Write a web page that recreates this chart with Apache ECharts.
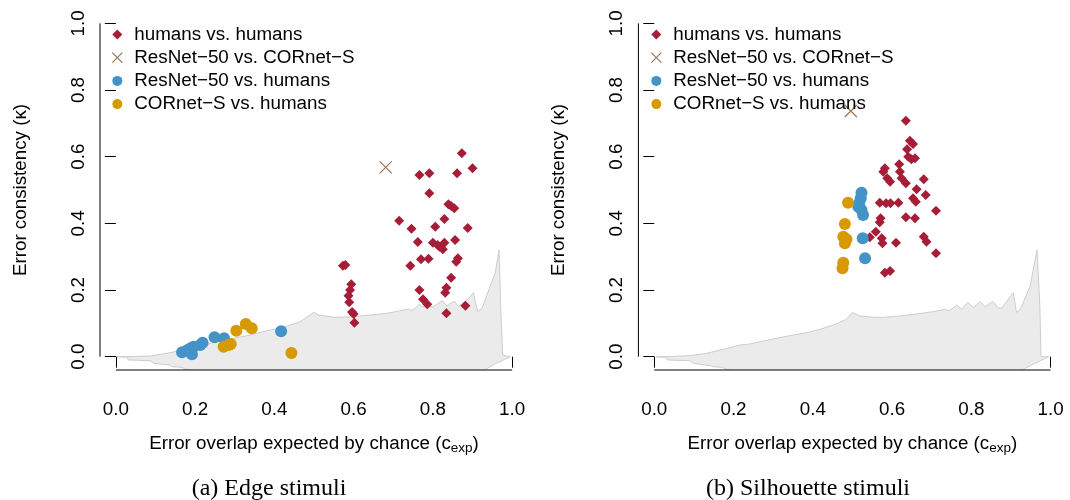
<!DOCTYPE html>
<html>
<head>
<meta charset="utf-8">
<script src="https://cdn.jsdelivr.net/npm/echarts@6/dist/echarts.min.js"></script>
<style>
  html, body { margin: 0; padding: 0; background: #fff; }
  #chart { width: 1070px; height: 500px; }
</style>
</head>
<body>
<div id="chart"></div>
<script>
// ---- data: error consistency vs. expected overlap ----
const tickValues = [0, 0.2, 0.4, 0.6, 0.8, 1.0];
const seriesNames = ['humans vs. humans', 'ResNet\u221250 vs. CORnet\u2212S', 'ResNet\u221250 vs. humans', 'CORnet\u2212S vs. humans'];
const panelCaptions = ['(a) Edge stimuli', '(b) Silhouette stimuli'];

// Edge stimuli
const edgeHumans = [
  [0.873,0.610],[0.900,0.565],[0.766,0.545],[0.791,0.550],[0.861,0.550],[0.791,0.490],
  [0.839,0.457],[0.846,0.452],[0.854,0.445],[0.715,0.408],[0.829,0.413],[0.746,0.384],
  [0.806,0.390],[0.888,0.386],[0.762,0.344],[0.800,0.342],[0.812,0.335],[0.817,0.330],
  [0.829,0.342],[0.825,0.322],[0.856,0.350],[0.770,0.292],[0.789,0.294],[0.863,0.295],
  [0.859,0.285],[0.743,0.273],[0.846,0.237],[0.834,0.207],[0.831,0.192],[0.766,0.200],
  [0.775,0.172],[0.786,0.157],[0.882,0.153],[0.834,0.130],[0.573,0.273],[0.579,0.275],
  [0.594,0.217],[0.591,0.200],[0.587,0.183],[0.589,0.163],[0.596,0.134],[0.600,0.128],
  [0.602,0.102]
];
const edgeModels = [[0.681,0.568]];
const edgeResNet = [
  [0.167,0.013],[0.181,0.020],[0.192,0.007],[0.196,0.030],[0.189,0.025],[0.213,0.035],
  [0.219,0.042],[0.249,0.058],[0.273,0.055],[0.417,0.076]
];
const edgeCORnet = [
  [0.304,0.078],[0.328,0.098],[0.343,0.085],[0.272,0.030],[0.290,0.038],[0.285,0.035],[0.443,0.011]
];
const edgeBandUpper = [
  [0.0025,0],[0.028,0],[0.087,0.002],[0.129,0.010],[0.167,0.020],[0.213,0.032],[0.255,0.045],
  [0.297,0.055],[0.339,0.065],[0.381,0.078],[0.423,0.088],[0.465,0.105],[0.490,0.125],
  [0.500,0.133],[0.511,0.125],[0.553,0.118],[0.600,0.120],[0.642,0.125],[0.684,0.130],
  [0.726,0.140],[0.738,0.143],[0.747,0.138],[0.760,0.150],[0.766,0.158],[0.772,0.150],
  [0.802,0.150],[0.810,0.157],[0.824,0.168],[0.835,0.152],[0.854,0.167],[0.865,0.150],
  [0.890,0.175],[0.902,0.192],[0.913,0.135],[0.924,0.145],[0.944,0.210],[0.957,0.250],
  [0.967,0.320],[0.971,0.150],[0.976,0.005],[0.995,0]
];
const edgeBandLower = [
  [0.995,0],[0.960,-0.020],[0.930,-0.040],[0.850,-0.090],[0.500,-0.130],[0.300,-0.090],
  [0.200,-0.042],[0.175,-0.038],[0.167,-0.032],[0.141,-0.030],[0.137,-0.025],[0.095,-0.020],
  [0.087,-0.012],[0.032,-0.010],[0.028,-0.002],[0.0025,0]
];

// Silhouette stimuli
const silHumans = [
  [0.635,0.708],[0.645,0.648],[0.653,0.638],[0.638,0.622],[0.641,0.600],[0.649,0.592],
  [0.658,0.595],[0.618,0.577],[0.582,0.565],[0.578,0.555],[0.620,0.555],[0.588,0.535],
  [0.595,0.525],[0.624,0.535],[0.635,0.520],[0.680,0.532],[0.662,0.502],[0.685,0.485],
  [0.653,0.475],[0.660,0.465],[0.569,0.462],[0.585,0.460],[0.596,0.460],[0.616,0.462],
  [0.635,0.418],[0.658,0.415],[0.571,0.415],[0.569,0.403],[0.559,0.375],[0.544,0.358],
  [0.574,0.355],[0.576,0.340],[0.610,0.342],[0.680,0.360],[0.687,0.345],[0.711,0.438],
  [0.711,0.310],[0.582,0.252],[0.595,0.257]
];
const silModels = [[0.496,0.737]];
const silResNet = [
  [0.523,0.492],[0.521,0.475],[0.517,0.460],[0.515,0.450],[0.523,0.440],[0.527,0.425],
  [0.526,0.355],[0.532,0.295]
];
const silCORnet = [
  [0.489,0.462],[0.481,0.398],[0.477,0.360],[0.485,0.352],[0.481,0.340],[0.477,0.282],[0.475,0.265]
];
const silBandUpper = [
  [0.004,0],[0.027,0],[0.090,0.003],[0.132,0.010],[0.174,0.022],[0.216,0.035],[0.241,0.038],
  [0.267,0.045],[0.300,0.053],[0.342,0.063],[0.384,0.072],[0.418,0.082],[0.452,0.095],
  [0.485,0.112],[0.500,0.133],[0.519,0.122],[0.552,0.118],[0.578,0.118],[0.620,0.122],
  [0.662,0.128],[0.704,0.135],[0.733,0.142],[0.744,0.138],[0.763,0.155],[0.775,0.143],
  [0.792,0.163],[0.805,0.147],[0.823,0.165],[0.834,0.150],[0.854,0.165],[0.868,0.147],
  [0.876,0.145],[0.906,0.192],[0.914,0.133],[0.924,0.143],[0.948,0.210],[0.966,0.320],
  [0.973,0.150],[0.976,0],[0.996,0]
];
const silBandLower = [
  [0.996,0],[0.960,-0.020],[0.931,-0.038],[0.850,-0.090],[0.500,-0.130],[0.300,-0.090],
  [0.200,-0.042],[0.183,-0.038],[0.170,-0.032],[0.149,-0.030],[0.141,-0.027],[0.098,-0.020],
  [0.090,-0.012],[0.035,-0.010],[0.027,-0.002],[0.004,0]
];

// ---- styling ----
const FONT = "'Liberation Sans', Arial, Helvetica, sans-serif";
const SERIF = "'Liberation Serif', 'Times New Roman', serif";
const FS = 18.8;
const RED = '#A51D37', BROWN = '#9C7656', BLUE = '#4393C8', GOLD = '#D69A00';
const CROSS = 'path://M0,0 L10,10 M10,0 L0,10';

const chart = echarts.init(document.getElementById('chart'), null, { renderer: 'canvas' });

function xAxisFor(i) {
  return {
    gridIndex: i, type: 'value', min: -0.04, max: 1.04,
    axisLine: { show: false },
    splitLine: { show: false },
    axisTick: { show: true, length: 11, customValues: tickValues, lineStyle: { color: '#000', width: 1 } },
    axisLabel: { show: true, customValues: tickValues, margin: 30, color: '#000', fontFamily: FONT, fontSize: FS,
                 formatter: v => v.toFixed(1) },
    name: '{t|Error overlap expected by chance (c}{s|exp}{t|)}',
    nameLocation: 'middle', nameGap: 63,
    nameTextStyle: { rich: {
      t: { fontFamily: FONT, fontSize: FS, color: '#000' },
      s: { fontFamily: FONT, fontSize: 13.5, color: '#000', verticalAlign: 'bottom', padding: [8, 0, 0, 0] }
    } }
  };
}
function yAxisFor(i) {
  return {
    gridIndex: i, type: 'value', min: -0.04, max: 1.04,
    axisLine: { show: false },
    splitLine: { show: false },
    axisTick: { show: true, length: 11, customValues: tickValues, lineStyle: { color: '#000', width: 1 } },
    axisLabel: { show: true, customValues: tickValues, rotate: 90, margin: 12, color: '#000', fontFamily: FONT, fontSize: FS,
                 formatter: v => v.toFixed(1) },
    name: 'Error consistency (\u03BA)',
    nameLocation: 'middle', nameGap: 70, nameRotate: 90,
    nameTextStyle: { fontFamily: FONT, fontSize: FS, color: '#000' }
  };
}

// gray band (polygon between upper and lower curves), clipped to the plot region
function bandSeries(i, upper, lower) {
  return {
    type: 'custom', xAxisIndex: i, yAxisIndex: i, z: 1, silent: true,
    data: [[0, 0]],
    renderItem: function (params, api) {
      const pts = upper.concat(lower).map(p => api.coord(p));
      const cs = params.coordSys;
      return {
        type: 'polygon',
        shape: { points: pts },
        style: { fill: '#EBEBEB', stroke: '#CDCDCD', lineWidth: 1 },
        clipPath: { type: 'rect', shape: { x: cs.x, y: cs.y, width: cs.width, height: cs.height } }
      };
    }
  };
}
// R-style axis lines that span only from 0 to 1
function axisLineSeries(i) {
  const common = { type: 'line', xAxisIndex: i, yAxisIndex: i, symbol: 'none', silent: true, clip: false, z: 5,
                   lineStyle: { color: '#000', width: 1 } };
  return [
    Object.assign({ data: [[0, -0.04], [1, -0.04]] }, common),
    Object.assign({ data: [[-0.04, 0], [-0.04, 1]] }, common)
  ];
}
function pointSeries(i, humans, models, resnet, cornet) {
  return [
    { name: seriesNames[0], type: 'scatter', xAxisIndex: i, yAxisIndex: i, z: 3, data: humans,
      symbol: 'diamond', symbolSize: 10, itemStyle: { color: RED, opacity: 1 } },
    { name: seriesNames[1], type: 'scatter', xAxisIndex: i, yAxisIndex: i, z: 3, data: models,
      symbol: CROSS, symbolSize: 12, itemStyle: { color: BROWN, borderColor: BROWN, borderWidth: 1.2, opacity: 1 } },
    { name: seriesNames[2], type: 'scatter', xAxisIndex: i, yAxisIndex: i, z: 3, data: resnet,
      symbol: 'circle', symbolSize: 12, itemStyle: { color: BLUE, opacity: 1 } },
    { name: seriesNames[3], type: 'scatter', xAxisIndex: i, yAxisIndex: i, z: 3, data: cornet,
      symbol: 'circle', symbolSize: 12, itemStyle: { color: GOLD, opacity: 1 } }
  ];
}
function legendFor(left) {
  return {
    orient: 'vertical', left: left, top: 25, itemGap: 4.2, itemWidth: 10, itemHeight: 10,
    selectedMode: false, padding: 0,
    textStyle: { fontFamily: FONT, fontSize: FS, color: '#000', lineHeight: 18.5, padding: [0, 0, 0, 7] },
    data: [
      { name: seriesNames[0], icon: 'diamond', itemStyle: { color: RED } },
      { name: seriesNames[1], icon: CROSS, itemStyle: { color: BROWN, borderColor: BROWN, borderWidth: 1.2 } },
      { name: seriesNames[2], icon: 'circle', itemStyle: { color: BLUE } },
      { name: seriesNames[3], icon: 'circle', itemStyle: { color: GOLD } }
    ]
  };
}
function captionFor(text, center) {
  return { text: text, left: center, top: 472, textAlign: 'center',
           textStyle: { fontFamily: SERIF, fontSize: 24, fontWeight: 'normal', color: '#000' } };
}

const option = {
  backgroundColor: '#fff',
  animation: false,
  title: [captionFor(panelCaptions[0], 264), captionFor(panelCaptions[1], 803)],
  legend: [legendFor(111.7), legendFor(650.7)],
  grid: [
    { left: 100, top: 10, width: 428, height: 360 },
    { left: 638.4, top: 10, width: 428, height: 360 }
  ],
  xAxis: [xAxisFor(0), xAxisFor(1)],
  yAxis: [yAxisFor(0), yAxisFor(1)],
  series: [].concat(
    [bandSeries(0, edgeBandUpper, edgeBandLower), bandSeries(1, silBandUpper, silBandLower)],
    axisLineSeries(0), axisLineSeries(1),
    pointSeries(0, edgeHumans, edgeModels, edgeResNet, edgeCORnet),
    pointSeries(1, silHumans, silModels, silResNet, silCORnet)
  )
};
chart.setOption(option);
</script>
</body>
</html>
